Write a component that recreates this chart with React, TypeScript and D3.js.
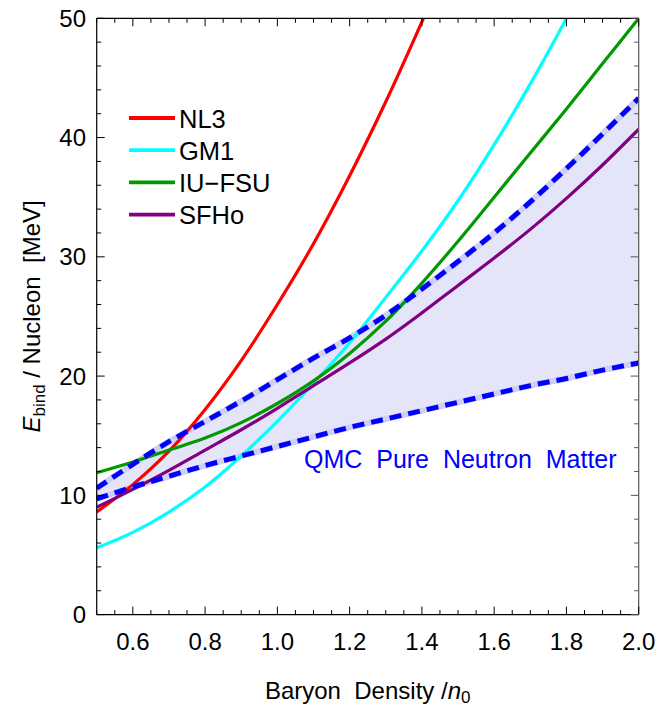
import React from "react";
import * as d3 from "d3";

const densityGrid = [0.5, 0.6, 0.7, 0.8, 0.9, 1.0, 1.1, 1.2, 1.3, 1.4, 1.5, 1.6, 1.7, 1.8, 1.9, 2.0];

const nl3X = [0.5, 0.6, 0.7, 0.8, 0.9, 1.0, 1.1, 1.2, 1.3, 1.4, 1.41];
const nl3Y = [8.6, 10.9, 13.7, 17.2, 21.3, 26.0, 31.1, 36.8, 43.0, 49.7, 50.4];

const gm1X = [0.5, 0.6, 0.7, 0.8, 0.9, 1.0, 1.1, 1.2, 1.3, 1.4, 1.5, 1.6, 1.7, 1.8, 1.81];
const gm1Y = [5.6, 6.9, 8.6, 10.7, 13.3, 16.2, 19.4, 22.8, 26.6, 30.5, 34.7, 39.4, 44.5, 50.0, 50.6];

const iufsuY = [11.9, 12.8, 13.8, 14.8, 16.1, 17.7, 19.6, 21.9, 24.6, 27.8, 31.3, 35.0, 38.7, 42.4, 46.2, 50.0];
const sfhoY = [9.0, 10.5, 12.1, 13.8, 15.5, 17.3, 19.2, 21.1, 23.1, 25.3, 27.6, 29.9, 32.3, 34.9, 37.7, 40.7];

const qmcUpper = [10.6, 12.6, 14.5, 16.2, 17.9, 19.7, 21.5, 23.2, 25.1, 27.3, 29.6, 32.0, 34.6, 37.4, 40.3, 43.3];
const qmcLower = [9.7, 10.7, 11.6, 12.5, 13.3, 14.1, 14.9, 15.7, 16.4, 17.1, 17.8, 18.5, 19.2, 19.8, 20.5, 21.1];

const legendNames = ["NL3", "GM1", "IU\u2212FSU", "SFHo"];
const legendColors = ["#ff0000", "#00ffff", "#009900", "#800080"];

const xMajorTicks = [0.6, 0.8, 1.0, 1.2, 1.4, 1.6, 1.8, 2.0];
const yMajorTicks = [0, 10, 20, 30, 40, 50];

const W = 668, H = 707;
const L = 96.7, R = 638.7, T = 18.3, B = 614.6;
const FONT = "'Liberation Sans', Arial, Helvetica, sans-serif";

export default function App() {
  const x = d3.scaleLinear().domain([0.5, 2.0]).range([L, R]);
  const y = d3.scaleLinear().domain([0, 50]).range([B, T]);

  const line = (xs: number[], ys: number[]) =>
    d3.line<number>().x((_, i) => x(xs[i])).y((d) => y(d)).curve(d3.curveCatmullRom)(ys) || "";

  const area = d3
    .area<number>()
    .x((_, i) => x(densityGrid[i]))
    .y0((_, i) => y(qmcLower[i]))
    .y1((d) => y(d))
    .curve(d3.curveCatmullRom)(qmcUpper) || "";

  const xMinor = d3.range(0.5, 2.0001, 0.05).map((v) => +v.toFixed(2));
  const yMinor = d3.range(0, 50.001, 2);

  const series = [
    { xs: nl3X, ys: nl3Y, c: legendColors[0] },
    { xs: gm1X, ys: gm1Y, c: legendColors[1] },
    { xs: densityGrid, ys: iufsuY, c: legendColors[2] },
    { xs: densityGrid, ys: sfhoY, c: legendColors[3] },
  ];

  return (
    <svg width={W} height={H} style={{ position: "absolute", left: 0, top: 0, background: "#fff" }} fontFamily={FONT}>
      <defs>
        <clipPath id="plotclip">
          <rect x={L} y={T} width={R - L} height={B - T} />
        </clipPath>
      </defs>
      <g clipPath="url(#plotclip)">
        <path d={area} fill="#e5e5fa" stroke="none" />
        <path d={line(densityGrid, qmcUpper)} fill="none" stroke="#cfcff3" strokeWidth={6} />
        <path d={line(densityGrid, qmcLower)} fill="none" stroke="#cfcff3" strokeWidth={6} />
        {series.map((s, i) => (
          <path key={i} d={line(s.xs, s.ys)} fill="none" stroke={s.c} strokeWidth={3.2} />
        ))}
        <path d={line(densityGrid, qmcUpper)} fill="none" stroke="#0000ff" strokeWidth={5} strokeDasharray="12 7" />
        <path d={line(densityGrid, qmcLower)} fill="none" stroke="#0000ff" strokeWidth={5} strokeDasharray="12 7" />
      </g>

      {/* frame */}
      <line x1={L} x2={R} y1={B} y2={B} stroke="#000" strokeWidth={1.2} />
      <line x1={L} x2={R} y1={T} y2={T} stroke="#000" strokeWidth={1.2} />
      <line x1={L} x2={L} y1={T} y2={B} stroke="#000" strokeWidth={1.2} />
      <line x1={R} x2={R} y1={T} y2={B} stroke="#555" strokeWidth={1.2} />

      {/* x ticks */}
      {xMinor.map((v, i) => {
        const major = xMajorTicks.some((m) => Math.abs(m - v) < 1e-6);
        const len = major ? 8 : 4.5;
        return (
          <g key={"xt" + i}>
            <line x1={x(v)} x2={x(v)} y1={B} y2={B - len} stroke="#000" strokeWidth={1} />
            <line x1={x(v)} x2={x(v)} y1={T} y2={T + len} stroke="#000" strokeWidth={1} />
          </g>
        );
      })}
      {yMinor.map((v, i) => {
        const major = yMajorTicks.includes(v);
        const len = major ? 8 : 4.5;
        return (
          <g key={"yt" + i}>
            <line x1={L} x2={L + len} y1={y(v)} y2={y(v)} stroke="#000" strokeWidth={1} />
            <line x1={R} x2={R - len} y1={y(v)} y2={y(v)} stroke="#555" strokeWidth={1} />
          </g>
        );
      })}

      {xMajorTicks.map((v) => (
        <text key={"xl" + v} x={x(v)} y={650} fontSize={24} textAnchor="middle" fill="#000">
          {v.toFixed(1)}
        </text>
      ))}
      {yMajorTicks.map((v) => (
        <text key={"yl" + v} x={86} y={y(v) + 8.5} fontSize={24} textAnchor="end" fill="#000">
          {v}
        </text>
      ))}

      {/* axis labels */}
      <text x={(L + R) / 2} y={699} fontSize={24} textAnchor="middle" fill="#000">
        <tspan>Baryon{"\u00a0\u00a0"}Density /</tspan>
        <tspan fontStyle="italic">n</tspan>
        <tspan fontSize={17} dy={4}>0</tspan>
      </text>
      <text transform={`translate(40, ${(T + B) / 2}) rotate(-90)`} fontSize={24} textAnchor="middle" fill="#000">
        <tspan fontStyle="italic">E</tspan>
        <tspan fontSize={17} dy={5}>bind</tspan>
        <tspan dy={-5}>{"\u00a0/\u00a0Nucleon\u00a0\u00a0[MeV]"}</tspan>
      </text>

      {/* legend */}
      {legendNames.map((n, i) => (
        <g key={"lg" + i}>
          <line x1={129} x2={175} y1={118 + i * 32.2} y2={118 + i * 32.2} stroke={legendColors[i]} strokeWidth={3.8} />
          <text x={179} y={127.5 + i * 32.2} fontSize={25.5} fill="#000">
            {n}
          </text>
        </g>
      ))}

      <text x={304} y={468} fontSize={25} fill="#0000ff">
        {"QMC\u00a0\u00a0Pure\u00a0\u00a0Neutron\u00a0\u00a0Matter"}
      </text>
    </svg>
  );
}
